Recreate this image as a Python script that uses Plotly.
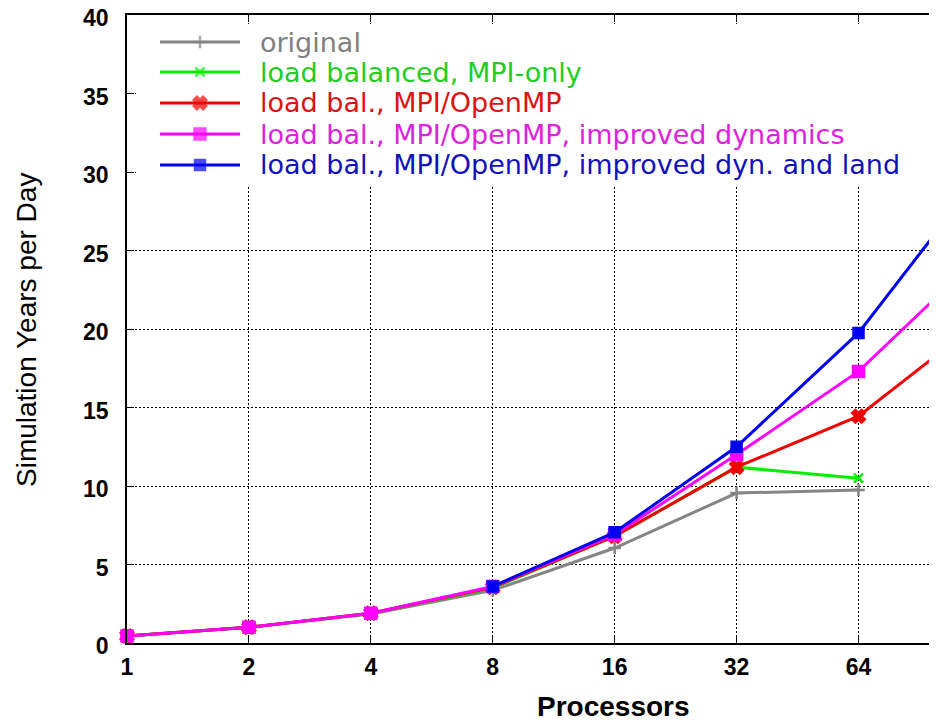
import plotly.graph_objects as go

# ---- data ----
procs = [1, 2, 4, 8, 16, 32, 64, 128]
tick_vals = [1, 2, 4, 8, 16, 32, 64]
tick_text = ["1", "2", "4", "8", "16", "32", "64"]
y_ticks = [0, 5, 10, 15, 20, 25, 30, 35, 40]

original = [0.45, 1.0, 1.85, 3.35, 6.05, 9.55, 9.75]
mpi_only = [0.45, 1.0, 1.9, 3.5, 6.8, 11.2, 10.5]
hybrid = [0.45, 1.0, 1.9, 3.55, 6.8, 11.2, 14.45, 20.5]
improved_dyn = [0.45, 1.0, 1.9, 3.6, 6.9, 12.0, 17.3, 24.7]
improved_dyn_land_procs = [8, 16, 32, 64, 128]
improved_dyn_land = [3.6, 7.05, 12.5, 19.75, 29.8]

names = [
    "original",
    "load balanced, MPI-only",
    "load bal., MPI/OpenMP",
    "load bal., MPI/OpenMP, improved dynamics",
    "load bal., MPI/OpenMP, improved dyn. and land",
]

series = [
    (procs[:len(original)], original),
    (procs[:len(mpi_only)], mpi_only),
    (procs[:len(hybrid)], hybrid),
    (procs[:len(improved_dyn)], improved_dyn),
    (improved_dyn_land_procs, improved_dyn_land),
]

line_colors = ["#858585", "#00ee00", "#f00000", "#ff00ff", "#0000ee"]
text_colors = ["#808080", "#22cc22", "#dd1111", "#dd22dd", "#1111bb"]
symbols = ["cross-thin-open", "x-thin-open", "x", "square", "square"]
sizes = [9, 9, 11, 11, 10]

# page body has an 8px margin; size the figure so the plot area lands where the reference has it
OFF = 8
W, H = 937 - OFF, 724 - OFF
ML, MR, MT, MB = 127 - OFF, 0, 15 - OFF, 81
PW, PH = W - ML - MR, H - MT - MB


def px_x(px):
    return (px - OFF - ML) / PW


def px_y(py):
    return (OFF + H - MB - py) / PH


fig = go.Figure()

for (xs, ys), c, s, sz in zip(series, line_colors, symbols, sizes):
    fig.add_trace(go.Scatter(
        x=xs, y=ys, mode="lines+markers",
        line=dict(color=c, width=3),
        marker=dict(symbol=s, size=sz, color=c, line=dict(color=c, width=2.5)),
        cliponaxis=False, showlegend=False, hoverinfo="skip",
    ))

# white box behind the legend, hiding the gridlines there (drawn on overlay axes),
# kept clear of the axis lines and their inside ticks
bx0, bx1, by0, by1 = px_x(136), 1, px_y(185), px_y(24)
fig.add_trace(go.Scatter(
    x=[bx0, bx1, bx1, bx0, bx0], y=[by0, by0, by1, by1, by0],
    xaxis="x2", yaxis="y2", mode="lines", fill="toself",
    fillcolor="white", line=dict(width=0, color="white"),
    showlegend=False, hoverinfo="skip",
))

# ---- hand-drawn legend (long line samples as in the reference) ----
legend_rows_px = [42, 72, 103, 134, 165]
lx0, lx1, ltext = px_x(160), px_x(240), px_x(258)
for name, ypx, c, tc, s, sz in zip(names, legend_rows_px, line_colors, text_colors, symbols, sizes):
    yy = px_y(ypx)
    fig.add_trace(go.Scatter(
        x=[lx0, (lx0 + lx1) / 2, lx1], y=[yy, yy, yy],
        xaxis="x2", yaxis="y2", mode="lines+markers",
        line=dict(color=c, width=3),
        marker=dict(symbol=s, size=[0, sz, 0], color=c, line=dict(color=c, width=2.5)),
        showlegend=False, hoverinfo="skip", cliponaxis=False,
    ))
    fig.add_annotation(
        text=name, xref="paper", yref="paper", x=ltext, y=yy,
        xanchor="left", yanchor="middle", showarrow=False,
        font=dict(family="DejaVu Sans", size=27, color=tc),
    )

# axis titles
fig.add_annotation(
    text="Processors", xref="paper", yref="paper",
    x=px_x(613), y=px_y(706), xanchor="center", yanchor="middle",
    showarrow=False,
    font=dict(family="Liberation Sans", size=28, color="black", weight="bold"),
)
fig.add_annotation(
    text="Simulation Years per Day", xref="paper", yref="paper",
    x=px_x(26), y=px_y(330), xanchor="center", yanchor="middle",
    textangle=-90, showarrow=False,
    font=dict(family="Liberation Sans", size=28, color="black"),
)

tickfont = dict(family="Liberation Sans", size=23, color="black", weight="bold")

fig.update_layout(
    width=W, height=H,
    margin=dict(l=ML, r=MR, t=MT, b=MB, pad=0),
    paper_bgcolor="white", plot_bgcolor="white",
    xaxis=dict(
        type="log", range=[0, 2],
        tickvals=tick_vals, ticktext=tick_text,
        ticks="inside", ticklen=7, tickcolor="black", tickwidth=1,
        showline=True, linecolor="black", linewidth=1.5, mirror="ticks",
        showgrid=True, gridcolor="black", gridwidth=1, griddash="2px,2px",
        zeroline=False, tickfont=tickfont, automargin=False,
        ticklabelstandoff=3, ticklabeloverflow="allow",
    ),
    yaxis=dict(
        range=[0, 40], tickvals=y_ticks,
        ticks="inside", ticklen=7, tickcolor="black", tickwidth=1,
        showline=True, linecolor="black", linewidth=1.5, mirror=False,
        showgrid=True, gridcolor="black", gridwidth=1, griddash="2px,2px",
        zeroline=False, tickfont=tickfont, automargin=False,
        ticklabelstandoff=12, ticklabelshift=3, ticklabeloverflow="allow",
    ),
    xaxis2=dict(overlaying="x", range=[0, 1], visible=False, fixedrange=True),
    yaxis2=dict(overlaying="y", range=[0, 1], visible=False, fixedrange=True),
)

fig.write_html("out.html")
